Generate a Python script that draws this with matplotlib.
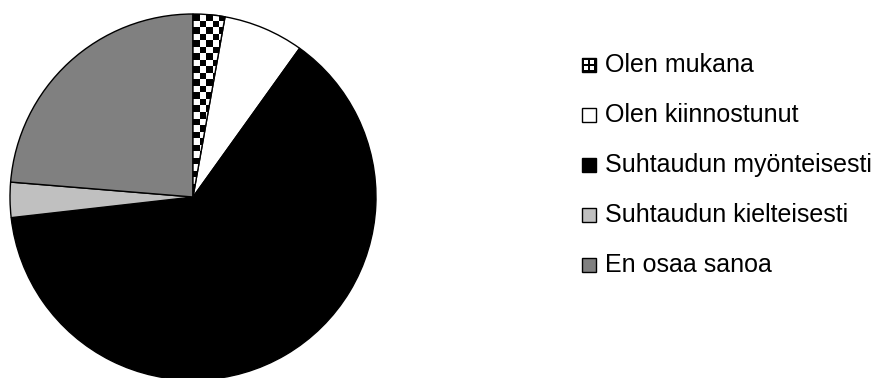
import numpy as np
import matplotlib
matplotlib.use("Agg")
import matplotlib.pyplot as plt
from matplotlib.patches import Rectangle, Wedge

labels = ["Olen mukana", "Olen kiinnostunut", "Suhtaudun myönteisesti",
          "Suhtaudun kielteisesti", "En osaa sanoa"]
shares = [2.8, 7.1, 63.3, 3.1, 23.7]
colors = ["white", "white", "black", "#c0c0c0", "#808080"]

plt.rcParams['font.family'] = ['Liberation Sans', 'DejaVu Sans']

fig = plt.figure(figsize=(8.78, 3.78), dpi=100)

# pie axes (pixel box: left 10, top 14, size 366)
ax = fig.add_axes([10/878, (378-380)/378, 366/878, 366/378])
wedges, _ = ax.pie(shares, colors=colors, startangle=90, counterclock=False,
                   wedgeprops=dict(edgecolor="black", linewidth=1.0))
ax.set_aspect("equal")
ax.set_xlim(-1, 1)
ax.set_ylim(-1, 1)

# checkerboard fill for the first slice
n = 56
yy, xx = np.mgrid[0:n, 0:n]
checker = ((xx + yy) % 2).astype(float)
im = ax.imshow(checker, cmap="gray", extent=(-1, 1, -1, 1),
               interpolation="nearest", zorder=wedges[0].get_zorder() + 0.1)
im.set_clip_path(wedges[0])
ax.add_patch(Wedge((0, 0), 1, wedges[0].theta1, wedges[0].theta2,
                   fill=False, edgecolor="black", lw=1.0, zorder=3))

# legend drawn by hand
row_y = [65, 115, 165, 215, 265]
box = 14
for lab, col, y in zip(labels, colors, row_y):
    yf = 1 - y/378
    r = Rectangle((582/878, yf - box/2/378), box/878, box/378, transform=fig.transFigure,
                  facecolor=col, edgecolor="black", lw=1.0, zorder=1)
    fig.add_artist(r)
    fig.text(605/878, yf, lab, fontsize=18, va="center", ha="left")

# small pattern inside the first legend box
tile = np.ones((7, 7))
tile[[0, 3, 6], :] = 0
tile[:, [0, 3, 6]] = 0
lax = fig.add_axes([582/878, 1 - (row_y[0] + box/2)/378, box/878, box/378])
lax.imshow(tile, cmap="gray", interpolation="nearest", aspect="auto")
lax.axis("off")
lax.set_zorder(5)

fig.savefig("out.png", dpi=100)
